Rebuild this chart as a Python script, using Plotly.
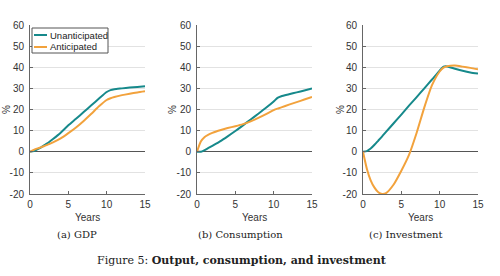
import plotly.graph_objects as go

years = [0, 0.5, 1, 1.5, 2, 2.5, 3, 4, 5, 6, 7, 8, 9, 10, 10.5, 11, 12, 13, 14, 15]

gdp_unant = [0, 0.3, 1.2, 2.2, 3.4, 4.6, 6.0, 9.0, 12.5, 15.6, 18.8, 22.0, 25.2, 28.3, 29.2, 29.6, 30.0, 30.4, 30.7, 31.0]
gdp_ant = [0, 0.9, 1.6, 2.2, 2.9, 3.6, 4.4, 6.3, 8.8, 11.5, 14.6, 18.0, 21.5, 24.5, 25.3, 25.9, 26.8, 27.5, 28.1, 28.6]

cons_unant = [0, 0.0, 0.8, 1.8, 2.8, 3.8, 4.9, 7.3, 9.8, 12.5, 15.3, 18.0, 20.8, 23.8, 25.5, 26.3, 27.2, 28.1, 29.0, 29.9]
cons_ant = [0, 4.8, 7.0, 8.1, 8.9, 9.6, 10.2, 11.2, 12.1, 13.1, 14.4, 16.0, 17.8, 19.7, 20.4, 21.0, 22.3, 23.5, 24.7, 25.9]

inv_unant = [0, 0.3, 1.5, 3.3, 5.3, 7.3, 9.4, 13.5, 17.6, 21.8, 25.9, 30.0, 34.2, 38.4, 40.3, 40.4, 39.3, 38.3, 37.5, 37.0]
inv_ant = [0, -8.0, -13.5, -17.0, -19.2, -20.0, -19.6, -15.5, -9.0, -1.5, 9.0, 21.0, 31.5, 38.0, 39.8, 40.5, 40.8, 40.3, 39.7, 39.0]

series_names = ["Unanticipated", "Anticipated"]
subcaptions = ["(a) GDP", "(b) Consumption", "(c) Investment"]
caption = "Figure 5: <b>Output, consumption, and investment</b>"
x_title = "Years"
y_title = "%"
y_ticks = [-20, -10, 0, 10, 20, 30, 40, 50, 60]
x_ticks = [0, 5, 10, 15]

teal = "#16898b"
orange = "#f2a23c"
W, H = 500, 276

def px(x):
    return x / W

def py(y):
    return 1 - y / H

panels = [(gdp_unant, gdp_ant), (cons_unant, cons_ant), (inv_unant, inv_ant)]
xdomains = [[px(30), px(145)], [px(197), px(312)], [px(363), px(478)]]
ydomain = [py(194), py(25)]

fig = go.Figure()
for i, (u, a) in enumerate(panels):
    suffix = "" if i == 0 else str(i + 1)
    fig.add_trace(go.Scatter(x=years, y=u, mode="lines", name=series_names[0],
                             line=dict(color=teal, width=2, shape="spline", smoothing=0.6),
                             xaxis="x" + suffix, yaxis="y" + suffix, showlegend=False))
    fig.add_trace(go.Scatter(x=years, y=a, mode="lines", name=series_names[1],
                             line=dict(color=orange, width=2, shape="spline", smoothing=0.6),
                             xaxis="x" + suffix, yaxis="y" + suffix, showlegend=False))

axis_font = dict(family="Liberation Sans, Arial", size=10, color="#333")
layout = dict(
    width=W, height=H, margin=dict(l=0, r=0, t=0, b=0),
    paper_bgcolor="white", plot_bgcolor="white",
    font=axis_font, showlegend=False,
)
for i in range(3):
    suffix = "" if i == 0 else str(i + 1)
    layout["xaxis" + suffix] = dict(
        domain=xdomains[i], anchor="y" + suffix, range=[0, 15], tickvals=x_ticks,
        ticktext=[str(v) for v in x_ticks],
        showgrid=False, zeroline=False, showline=True, linecolor="#666", linewidth=1,
        ticks="inside", ticklen=3, tickcolor="#666", ticklabelstandoff=1, automargin=False)
    layout["yaxis" + suffix] = dict(
        domain=ydomain, anchor="x" + suffix, range=[-20, 60], tickvals=y_ticks,
        ticktext=[str(v) for v in y_ticks],
        showgrid=True, gridcolor="#e2e2e2", gridwidth=1,
        zeroline=True, zerolinecolor="#555", zerolinewidth=1.2,
        showline=True, linecolor="#666", linewidth=1,
        ticks="inside", ticklen=3, tickcolor="#666", ticklabelstandoff=3, automargin=False)

annotations = []
shapes = []

def note(x, y, text, **kw):
    d = dict(x=x, y=y, xref="paper", yref="paper", text=text, showarrow=False,
             xanchor="center", yanchor="middle")
    d.update(kw)
    annotations.append(d)

ytitle_x = [6, 172, 340]
for i in range(3):
    cx = (xdomains[i][0] + xdomains[i][1]) / 2
    note(cx, py(217), x_title, font=dict(size=10, color="#333"))
    note(px(ytitle_x[i]), py(110), y_title, textangle=-90, font=dict(size=10, color="#333"))

serif = "DejaVu Serif, serif"
centers = [77, 240, 406]
for c, t in zip(centers, subcaptions):
    note(px(c), py(234), t, font=dict(family=serif, size=10, color="#222"))
note(px(242), py(260), caption, font=dict(family=serif, size=11, color="#222"))

# compact legend
shapes.append(dict(type="rect", xref="paper", yref="paper", x0=px(32), x1=px(108), y0=py(53), y1=py(28),
                   line=dict(color="#555", width=1), fillcolor="white", layer="above"))
for j, (name, col) in enumerate(zip(series_names, [teal, orange])):
    ly = 35 + j * 12
    shapes.append(dict(type="line", xref="paper", yref="paper", x0=px(34), x1=px(47), y0=py(ly), y1=py(ly),
                       line=dict(color=col, width=2), layer="above"))
    note(px(47.5), py(ly), name, xanchor="left", font=dict(size=9.5, color="#222"))

layout["annotations"] = annotations
layout["shapes"] = shapes

fig.update_layout(**layout)
fig.write_html("out.html")
